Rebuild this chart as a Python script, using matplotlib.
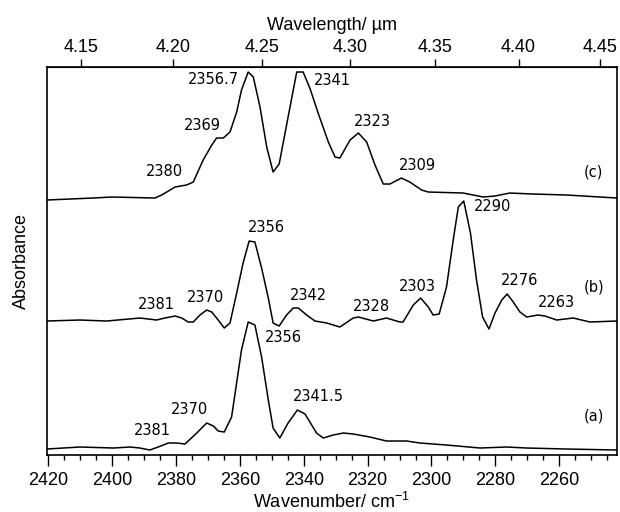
import matplotlib
matplotlib.use("Agg")
import matplotlib.pyplot as plt
import numpy as np
from matplotlib.ticker import MultipleLocator

plt.rcParams["font.family"] = ["Liberation Sans", "DejaVu Sans"]
plt.rcParams["mathtext.fontset"] = "custom"
plt.rcParams["mathtext.rm"] = "Liberation Sans"

# wavenumber (cm-1) and absorbance (arb. units)
wn_c = [2420.5, 2405.9, 2400.2, 2386.6, 2384.5, 2380.3, 2376.7, 2374.6, 2371.5, 2368.8,
        2367.3, 2365.2, 2363.1, 2361.0, 2359.5, 2357.4, 2355.8, 2353.7, 2351.6, 2349.6,
        2347.7, 2344.9, 2342.2, 2340.2, 2338.1, 2335.5, 2332.3, 2330.2, 2328.7, 2325.5,
        2322.9, 2320.3, 2317.7, 2315.1, 2313.0, 2309.4, 2306.8, 2303.1, 2301.0, 2290.1,
        2283.8, 2280.1, 2275.5, 2268.2, 2257.7, 2242.0]
abs_c = [-0.02, 0.00, 0.01, 0.00, 0.03, 0.11, 0.13, 0.16, 0.38, 0.53,
         0.60, 0.60, 0.66, 0.86, 1.08, 1.26, 1.21, 0.91, 0.51, 0.26,
         0.34, 0.81, 1.26, 1.26, 1.10, 0.85, 0.56, 0.41, 0.40, 0.58,
         0.65, 0.56, 0.33, 0.14, 0.14, 0.20, 0.16, 0.08, 0.06, 0.05,
         0.01, 0.02, 0.05, 0.04, 0.03, 0.00]

wn_b = [2420.5, 2410.1, 2401.7, 2391.3, 2386.1, 2383.5, 2380.3, 2378.2, 2376.2, 2374.6,
        2372.5, 2370.4, 2368.8, 2366.8, 2364.9, 2363.1, 2361.0, 2359.0, 2357.1, 2355.3,
        2353.2, 2351.1, 2349.6, 2347.7, 2345.4, 2343.3, 2341.7, 2339.1, 2336.5, 2332.8,
        2328.7, 2324.5, 2322.9, 2318.2, 2314.1, 2309.9, 2308.9, 2305.7, 2303.4, 2301.0,
        2299.5, 2297.6, 2295.3, 2293.2, 2291.6, 2289.9, 2287.8, 2285.9, 2284.0, 2282.0,
        2280.1, 2278.0, 2276.3, 2274.4, 2272.3, 2270.2, 2266.6, 2264.5, 2260.8, 2255.6,
        2250.4, 2242.0]
abs_b = [0.00, 0.01, 0.00, 0.03, 0.01, 0.03, 0.05, 0.03, -0.01, -0.01,
         0.06, 0.11, 0.09, 0.01, -0.07, -0.02, 0.28, 0.58, 0.80, 0.79,
         0.53, 0.23, -0.02, -0.05, 0.06, 0.13, 0.13, 0.06, 0.00, -0.02,
         -0.06, 0.03, 0.04, 0.00, 0.03, -0.01, -0.01, 0.16, 0.23, 0.14,
         0.06, 0.07, 0.34, 0.81, 1.14, 1.20, 0.88, 0.41, 0.04, -0.08,
         0.08, 0.21, 0.27, 0.19, 0.09, 0.04, 0.06, 0.05, 0.01, 0.03,
         -0.01, 0.00]

wn_a = [2420.5, 2410.1, 2399.6, 2394.4, 2391.3, 2388.2, 2385.6, 2382.4, 2379.8, 2377.2,
        2373.5, 2370.4, 2368.3, 2366.8, 2364.9, 2362.6, 2359.5, 2357.4, 2355.3, 2353.2,
        2351.1, 2349.6, 2347.5, 2344.9, 2342.0, 2339.6, 2336.0, 2333.9, 2330.8, 2327.6,
        2324.5, 2319.3, 2314.1, 2307.8, 2303.6, 2295.3, 2284.8, 2276.5, 2270.2, 2257.7,
        2242.0]
abs_a = [-0.01, 0.01, 0.00, 0.01, 0.00, -0.02, 0.01, 0.05, 0.05, 0.04,
         0.15, 0.25, 0.22, 0.17, 0.16, 0.31, 0.98, 1.26, 1.23, 0.91,
         0.48, 0.20, 0.10, 0.25, 0.38, 0.34, 0.15, 0.10, 0.13, 0.15,
         0.14, 0.11, 0.07, 0.07, 0.05, 0.03, 0.00, 0.01, 0.00, -0.01,
         -0.02]

# vertical offsets of the stacked traces
offsets = {"a": 0.07, "b": 1.34, "c": 2.57}

# peak labels: (text, wavenumber, y)
labels_c = [("2356.7", 2368.3, 3.757), ("2369", 2371.7, 3.30), ("2380", 2383.5, 2.84),
            ("2341", 2330.9, 3.75), ("2323", 2318.4, 3.34), ("2309", 2304.3, 2.897),
            ("(c)", 2249.2, 2.827)]
labels_b = [("2356", 2351.6, 2.277), ("2381", 2386.3, 1.507), ("2370", 2370.7, 1.577),
            ("2342", 2338.5, 1.60), ("2328", 2318.7, 1.49), ("2303", 2304.4, 1.683),
            ("2290", 2280.8, 2.483), ("2276", 2272.5, 1.743), ("2263", 2260.8, 1.523),
            ("(b)", 2249.1, 1.677)]
labels_a = [("2356", 2346.3, 1.177), ("2370", 2375.7, 0.457), ("2381", 2387.4, 0.25),
            ("2341.5", 2335.5, 0.583), ("(a)", 2249.2, 0.39)]

fig = plt.figure(figsize=(6.2, 5.12), dpi=100)
ax = fig.add_axes([0.0753, 0.1113, 0.9194, 0.7584])

for wn, ab, key in [(wn_a, abs_a, "a"), (wn_b, abs_b, "b"), (wn_c, abs_c, "c")]:
    ax.plot(wn, np.array(ab) + offsets[key], color="black", lw=1.1)

for lab in (labels_a, labels_b, labels_c):
    for txt, x, y in lab:
        ax.text(x, y, txt, ha="center", va="center", fontsize=10.5,
                family="DejaVu Sans", color="black")

ax.set_xlim(2420.5, 2242.0)
ax.set_ylim(0, 3.883)
ax.xaxis.set_major_locator(MultipleLocator(20))
ax.xaxis.set_minor_locator(MultipleLocator(5))
ax.tick_params(axis="x", which="major", direction="out", length=8, width=1.0,
               labelsize=13, pad=4)
ax.tick_params(axis="x", which="minor", direction="out", length=3.6, width=1.0)
ax.set_yticks([])
for s in ax.spines.values():
    s.set_linewidth(1.2)

ax.set_xlabel("Wavenumber/ cm$^{-1}$", fontsize=13, labelpad=2)
ax.set_ylabel("Absorbance", fontsize=13, labelpad=12)

top = ax.secondary_xaxis("top", functions=(lambda x: 1e4 / x, lambda x: 1e4 / x))
top.set_xticks([4.15, 4.20, 4.25, 4.30, 4.35, 4.40, 4.45])
top.set_xticklabels(["4.15", "4.20", "4.25", "4.30", "4.35", "4.40", "4.45"])
top.tick_params(direction="out", length=6, width=1.0, labelsize=13, pad=2)
top.xaxis.set_minor_locator(plt.NullLocator())
top.set_xlabel("Wavelength/ µm", fontsize=13, labelpad=6)

fig.savefig("out.png", dpi=100)
